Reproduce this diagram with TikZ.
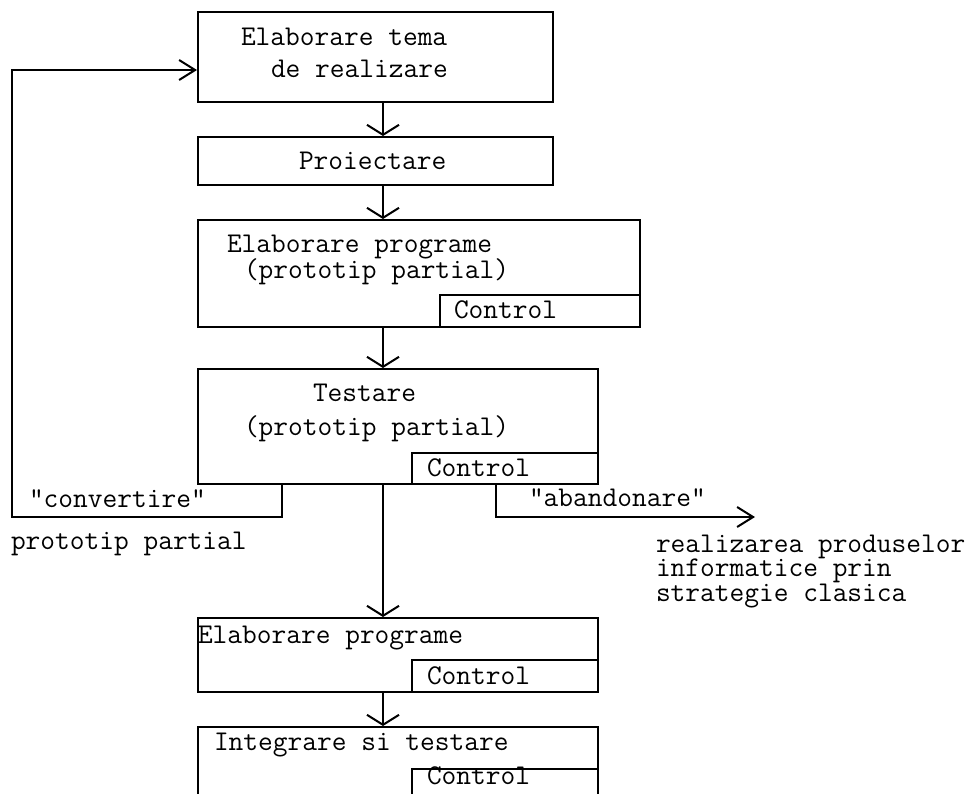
\documentclass[tikz,border=0pt]{standalone}
\usepackage{fontspec}
\usepackage{tikz}
\usetikzlibrary{arrows.meta, calc}

\begin{document}
\begin{tikzpicture}[x=0.5pt, y=-0.5pt, line width=1pt,
  every node/.style={font=\ttfamily\fontsize{14.3}{12.25}\selectfont},
  box/.style={draw, rectangle, inner sep=0pt, anchor=north west},
  lbl/.style={inner sep=0pt, anchor=base west},
  varr/.style={-{Straight Barb[length=5pt, width=16pt]}},
  harr/.style={-{Straight Barb[length=8pt, width=10pt]}}]
  \useasboundingbox (0, 0) rectangle (969, 793);
  \clip (0, 0) rectangle (969, 793);

  % boxes
  \node[box, minimum width=177.5pt, minimum height=45pt] (tema) at (197, 11) {};
  \node[box, minimum width=177.5pt, minimum height=24pt] (proiect) at (197, 136) {};
  \node[box, minimum width=221pt, minimum height=53.5pt] (progr) at (197, 219) {};
  \node[box, minimum width=100pt, minimum height=16pt] (ctrlA) at (439, 294) {};
  \node[box, minimum width=200pt, minimum height=57.5pt] (test) at (197, 368) {};
  \node[box, minimum width=93pt, minimum height=15.5pt] (ctrlB) at (411, 452) {};
  \node[box, minimum width=200pt, minimum height=37pt] (progrfin) at (197, 617) {};
  \node[box, minimum width=93pt, minimum height=16pt] (ctrlC) at (411, 659) {};
  \node[box, minimum width=200pt, minimum height=45pt] (integ) at (197, 726) {};
  \node[box, minimum width=93pt, minimum height=24pt] (ctrlD) at (411, 768) {};

  % texts
  \node[lbl] (temaA) at (240, 45) {Elaborare tema};
  \node[lbl] (temaB) at (270, 77) {de realizare};
  \node[lbl] (proiectT) at (298, 169) {Proiectare};
  \node[lbl] (progrA) at (226, 252) {Elaborare programe};
  \node[lbl] (progrB) at (243, 278) {(prototip partial)};
  \node[lbl] (ctrlAT) at (453, 318) {Control};
  \node[lbl] (testA) at (312, 401) {Testare};
  \node[lbl] (testB) at (243, 435) {(prototip partial)};
  \node[lbl] (ctrlBT) at (426, 476) {Control};
  \node[lbl] (conv) at (28, 507) {"convertire"};
  \node[lbl] (proto) at (10, 549) {prototip partial};
  \node[lbl] (aband) at (528, 506) {"abandonare"};
  \node[lbl] (clasicA) at (655, 552) {realizarea produselor};
  \node[lbl] (clasicB) at (655, 576) {informatice prin};
  \node[lbl] (clasicC) at (655, 601) {strategie clasica};
  \node[lbl] (progrfinT) at (197, 643) {Elaborare programe};
  \node[lbl] (ctrlCT) at (426, 684) {Control};
  \node[lbl] (integT) at (213, 750) {Integrare si testare};
  \node[lbl] (ctrlDT) at (426, 784) {Control};

  % connectors
  \coordinate (axis) at (383, 0);
  \coordinate (cvx) at (282, 0);
  \coordinate (cvturn) at (12, 517);
  \coordinate (loopy) at (0, 70);
  \coordinate (abx) at (496, 0);
  \coordinate (abend) at (755, 517);

  \draw[varr] (tema.south -| axis) -- (proiect.north -| axis);
  \draw[varr] (proiect.south -| axis) -- (progr.north -| axis);
  \draw[varr] (progr.south -| axis) -- (test.north -| axis);
  \draw[varr] (test.south -| axis) -- (progrfin.north -| axis);
  \draw[varr] (progrfin.south -| axis) -- (integ.north -| axis);
  \draw[harr] (test.south -| cvx) |- (cvturn) |- (tema.west |- loopy);
  \draw[harr] (test.south -| abx) |- (abend);
\end{tikzpicture}
\end{document}
